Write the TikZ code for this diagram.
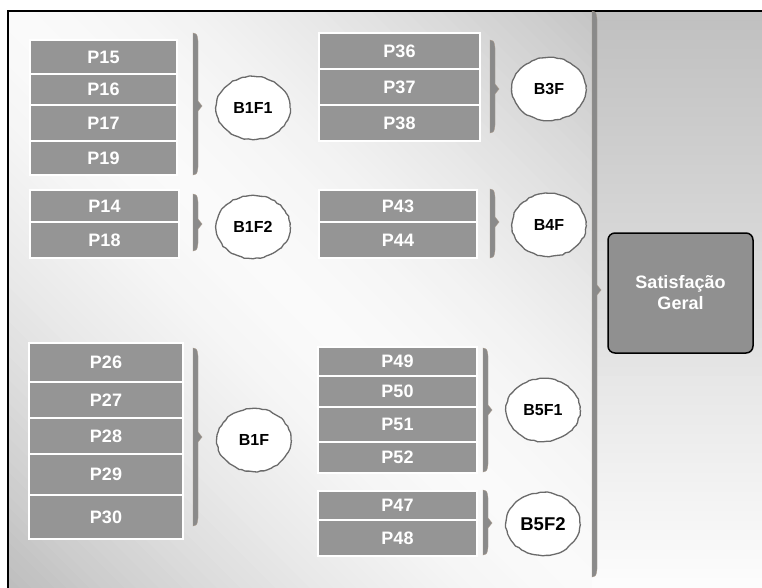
\documentclass[tikz,border=0pt]{standalone}
\usepackage{fontspec}
\setmainfont{Liberation Sans}
\usetikzlibrary{shapes.geometric,decorations.pathmorphing}
\definecolor{boxgray}{HTML}{959595}
\definecolor{bargray}{HTML}{8A8A8A}
\definecolor{baredge}{HTML}{A89A8C}
\definecolor{ringgray}{HTML}{6A6A6A}
\definecolor{goalgray}{HTML}{909090}

% vertical brace bar: x, top y, bottom y, tip y
\newcommand{\bracebar}[4]{%
  \filldraw[fill=bargray, draw=baredge, line width=0.4pt]
    (#1,#2) .. controls (#1+4,#2+1) .. (#1+5,#2+8)
    -- (#1+5,#4-5) -- (#1+9,#4) -- (#1+5,#4+5)
    -- (#1+5,#3-8) .. controls (#1+4,#3-1) .. (#1,#3) -- cycle;}

\begin{document}
\pgfmathsetseed{11}
\begin{tikzpicture}[x=1pt,y=-1pt,
  pbox/.style={rectangle, draw=white, line width=1.3pt, fill=boxgray,
    text=white, inner sep=0pt, font=\bfseries\fontsize{18}{21}\selectfont},
  factor/.style={ellipse, draw=ringgray, line width=1.3pt, fill=white,
    minimum width=74pt, minimum height=63pt, inner sep=0pt,
    font=\bfseries\fontsize{16}{19}\selectfont,
    decorate, decoration={random steps, segment length=3.5pt, amplitude=0.6pt}},
  goal/.style={rectangle, rounded corners=7pt, draw=black, line width=1.5pt,
    fill=goalgray, text=white, align=center, minimum width=145pt,
    minimum height=120pt, font=\bfseries\fontsize{18}{21}\selectfont}]

\useasboundingbox (0,0) rectangle (762,588);

% left panel: diagonal bands, grey in the lower-left and upper-right
% corners, nearly white along the main diagonal
\begin{scope}
  \clip (8,11) rectangle (592,588);
  \foreach \k in {0,...,99}{
    \pgfmathsetmacro\tm{(\k+0.5)/100}
    \pgfmathsetmacro\dd{abs(2*\tm-1)}
    \pgfmathsetmacro\shadeval{\tm<0.5 ? 2+24*\dd^1.6 : 2+21*\dd^1.6}
    \pgfmathsetmacro\ca{11.61*\k-580}
    \pgfmathsetmacro\cb{11.61*(\k+1)-579}
    \fill[black!\shadeval] (\ca-100,-100) -- (\ca+700,700)
      -- (\cb+700,700) -- (\cb-100,-100) -- cycle;
  }
\end{scope}

% right panel: grey at the top fading to white at the bottom
\begin{scope}
  \clip (592,11) rectangle (762,588);
  \foreach \k in {0,...,59}{
    \pgfmathsetmacro\shadeval{25-24*(\k+0.5)/60}
    \pgfmathsetmacro\ya{11+9.617*\k}
    \pgfmathsetmacro\yb{12+9.617*(\k+1)}
    \fill[black!\shadeval] (592,\ya) rectangle (762,\yb);
  }
\end{scope}
\draw[black, line width=1.5pt] (8,588) -- (8,11) -- (762,11);

% item boxes, left column
\node[pbox, minimum width=147pt, minimum height=34pt] (p15) at (103.5,57) {P15};
\node[pbox, minimum width=147pt, minimum height=31pt] (p16) at (103.5,89.5) {P16};
\node[pbox, minimum width=147pt, minimum height=36pt] (p17) at (103.5,123) {P17};
\node[pbox, minimum width=147pt, minimum height=34pt] (p19) at (103.5,158) {P19};

\node[pbox, minimum width=149pt, minimum height=32pt] (p14) at (104.5,206) {P14};
\node[pbox, minimum width=149pt, minimum height=36pt] (p18) at (104.5,240) {P18};

\node[pbox, minimum width=154pt, minimum height=39pt] (p26) at (106,362.5) {P26};
\node[pbox, minimum width=154pt, minimum height=36pt] (p27) at (106,400) {P27};
\node[pbox, minimum width=154pt, minimum height=36pt] (p28) at (106,436) {P28};
\node[pbox, minimum width=154pt, minimum height=41pt] (p29) at (106,474.5) {P29};
\node[pbox, minimum width=154pt, minimum height=44pt] (p30) at (106,517) {P30};

% item boxes, middle column
\node[pbox, minimum width=161pt, minimum height=36pt] (p36) at (399.5,51) {P36};
\node[pbox, minimum width=161pt, minimum height=36pt] (p37) at (399.5,87) {P37};
\node[pbox, minimum width=161pt, minimum height=36pt] (p38) at (399.5,123) {P38};

\node[pbox, minimum width=158pt, minimum height=32pt] (p43) at (398,206) {P43};
\node[pbox, minimum width=158pt, minimum height=36pt] (p44) at (398,240) {P44};

\node[pbox, minimum width=159pt, minimum height=29pt] (p49) at (397.5,361.5) {P49};
\node[pbox, minimum width=159pt, minimum height=31pt] (p50) at (397.5,391.5) {P50};
\node[pbox, minimum width=159pt, minimum height=35pt] (p51) at (397.5,424.5) {P51};
\node[pbox, minimum width=159pt, minimum height=31pt] (p52) at (397.5,457.5) {P52};

\node[pbox, minimum width=159pt, minimum height=29pt] (p47) at (397.5,505.5) {P47};
\node[pbox, minimum width=159pt, minimum height=36pt] (p48) at (397.5,538) {P48};

% braces gathering each block
\bracebar{193}{33}{175}{106}
\bracebar{193}{194}{251}{224}
\bracebar{193}{348}{526}{437}
\bracebar{490}{40}{133}{89}
\bracebar{490}{189}{258}{222}
\bracebar{483}{348}{472}{410}
\bracebar{483}{490}{555}{523}
\bracebar{592}{11}{577}{290}

% factors
\node[factor] (b1f1) at (253,108) {B1F1};
\node[factor] (b1f2) at (253,227) {B1F2};
\node[factor] (b1f)  at (254,440) {B1F};
\node[factor] (b3f)  at (549,89)  {B3F};
\node[factor] (b4f)  at (549,225) {B4F};
\node[factor] (b5f1) at (543,410) {B5F1};
\node[factor, font=\bfseries\fontsize{18.5}{21}\selectfont] (b5f2) at (543,524) {B5F2};

% overall outcome
\node[goal] (sg) at (680.5,293) {Satisfação\\Geral};
\end{tikzpicture}
\end{document}
